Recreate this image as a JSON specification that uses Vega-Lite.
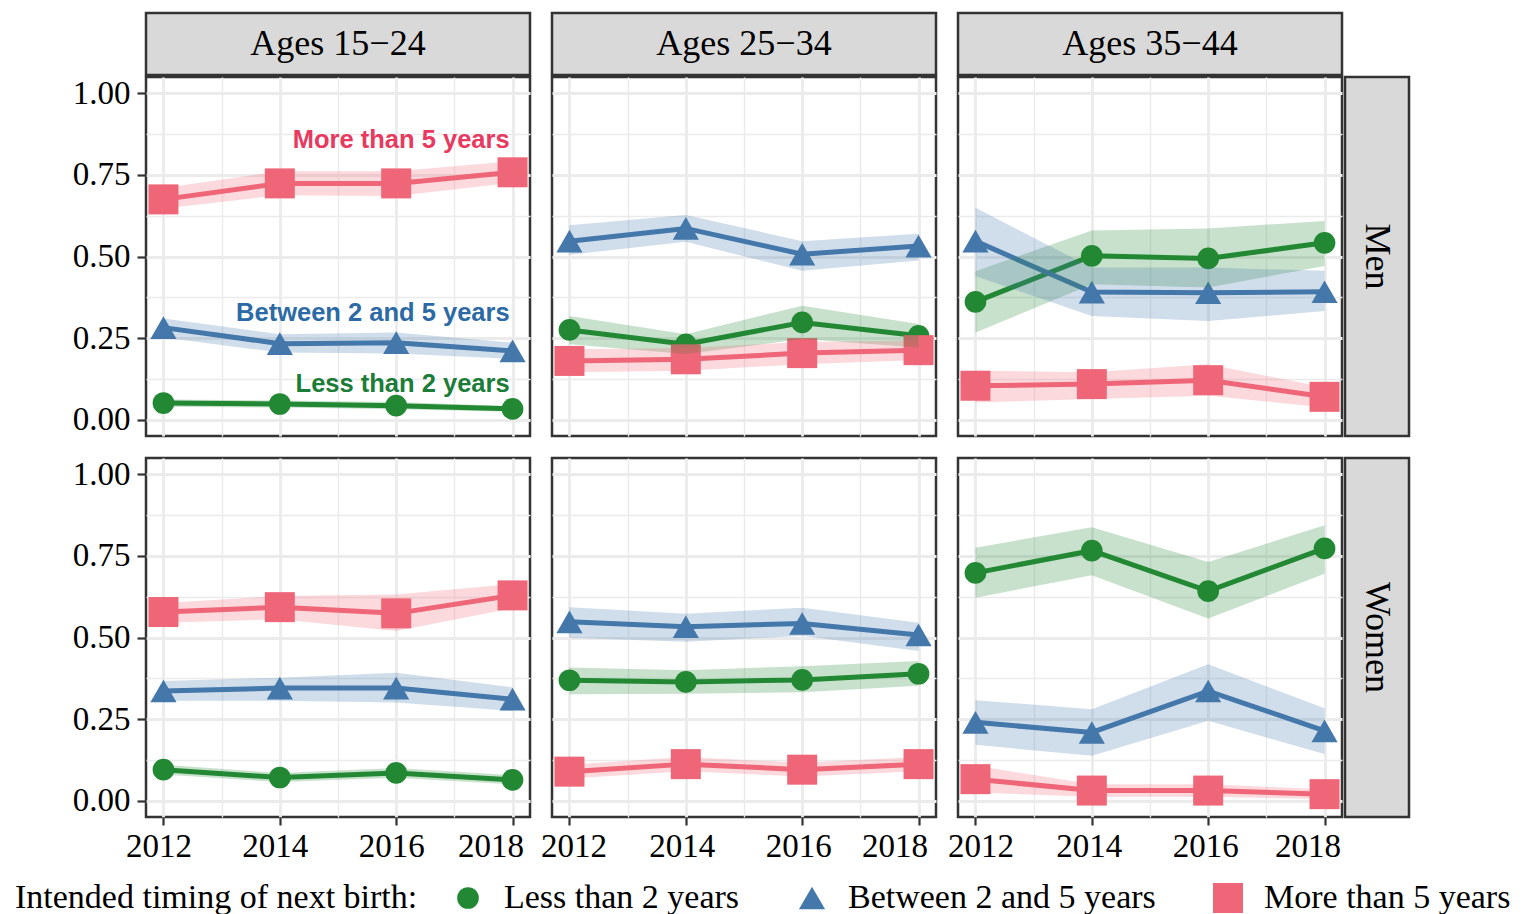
{
  "$schema": "https://vega.github.io/schema/vega-lite/v6.json",
  "background": "white",
  "padding": {"left": 15, "top": 11, "right": 2, "bottom": 2},
  "datasets": {
    "est": [
      {"sex": "Men", "age": "15-24", "timing": "Less than 2 years", "year": 2012, "est": 0.051, "lo": 0.040, "hi": 0.062},
      {"sex": "Men", "age": "15-24", "timing": "Less than 2 years", "year": 2014, "est": 0.048, "lo": 0.037, "hi": 0.059},
      {"sex": "Men", "age": "15-24", "timing": "Less than 2 years", "year": 2016, "est": 0.043, "lo": 0.032, "hi": 0.054},
      {"sex": "Men", "age": "15-24", "timing": "Less than 2 years", "year": 2018, "est": 0.033, "lo": 0.024, "hi": 0.042},
      {"sex": "Men", "age": "15-24", "timing": "Between 2 and 5 years", "year": 2012, "est": 0.282, "lo": 0.252, "hi": 0.310},
      {"sex": "Men", "age": "15-24", "timing": "Between 2 and 5 years", "year": 2014, "est": 0.233, "lo": 0.206, "hi": 0.262},
      {"sex": "Men", "age": "15-24", "timing": "Between 2 and 5 years", "year": 2016, "est": 0.236, "lo": 0.203, "hi": 0.267},
      {"sex": "Men", "age": "15-24", "timing": "Between 2 and 5 years", "year": 2018, "est": 0.211, "lo": 0.186, "hi": 0.236},
      {"sex": "Men", "age": "15-24", "timing": "More than 5 years", "year": 2012, "est": 0.675, "lo": 0.647, "hi": 0.710},
      {"sex": "Men", "age": "15-24", "timing": "More than 5 years", "year": 2014, "est": 0.724, "lo": 0.688, "hi": 0.761},
      {"sex": "Men", "age": "15-24", "timing": "More than 5 years", "year": 2016, "est": 0.724, "lo": 0.685, "hi": 0.761},
      {"sex": "Men", "age": "15-24", "timing": "More than 5 years", "year": 2018, "est": 0.758, "lo": 0.726, "hi": 0.792},

      {"sex": "Men", "age": "25-34", "timing": "Less than 2 years", "year": 2012, "est": 0.275, "lo": 0.231, "hi": 0.318},
      {"sex": "Men", "age": "25-34", "timing": "Less than 2 years", "year": 2014, "est": 0.231, "lo": 0.201, "hi": 0.262},
      {"sex": "Men", "age": "25-34", "timing": "Less than 2 years", "year": 2016, "est": 0.298, "lo": 0.247, "hi": 0.349},
      {"sex": "Men", "age": "25-34", "timing": "Less than 2 years", "year": 2018, "est": 0.257, "lo": 0.221, "hi": 0.293},
      {"sex": "Men", "age": "25-34", "timing": "Between 2 and 5 years", "year": 2012, "est": 0.547, "lo": 0.505, "hi": 0.596},
      {"sex": "Men", "age": "25-34", "timing": "Between 2 and 5 years", "year": 2014, "est": 0.586, "lo": 0.545, "hi": 0.627},
      {"sex": "Men", "age": "25-34", "timing": "Between 2 and 5 years", "year": 2016, "est": 0.507, "lo": 0.456, "hi": 0.547},
      {"sex": "Men", "age": "25-34", "timing": "Between 2 and 5 years", "year": 2018, "est": 0.532, "lo": 0.488, "hi": 0.570},
      {"sex": "Men", "age": "25-34", "timing": "More than 5 years", "year": 2012, "est": 0.180, "lo": 0.145, "hi": 0.216},
      {"sex": "Men", "age": "25-34", "timing": "More than 5 years", "year": 2014, "est": 0.185, "lo": 0.150, "hi": 0.220},
      {"sex": "Men", "age": "25-34", "timing": "More than 5 years", "year": 2016, "est": 0.204, "lo": 0.170, "hi": 0.238},
      {"sex": "Men", "age": "25-34", "timing": "More than 5 years", "year": 2018, "est": 0.213, "lo": 0.183, "hi": 0.243},

      {"sex": "Men", "age": "35-44", "timing": "Less than 2 years", "year": 2012, "est": 0.361, "lo": 0.267, "hi": 0.455},
      {"sex": "Men", "age": "35-44", "timing": "Less than 2 years", "year": 2014, "est": 0.502, "lo": 0.415, "hi": 0.580},
      {"sex": "Men", "age": "35-44", "timing": "Less than 2 years", "year": 2016, "est": 0.494, "lo": 0.405, "hi": 0.586},
      {"sex": "Men", "age": "35-44", "timing": "Less than 2 years", "year": 2018, "est": 0.542, "lo": 0.471, "hi": 0.609},
      {"sex": "Men", "age": "35-44", "timing": "Between 2 and 5 years", "year": 2012, "est": 0.547, "lo": 0.440, "hi": 0.649},
      {"sex": "Men", "age": "35-44", "timing": "Between 2 and 5 years", "year": 2014, "est": 0.391, "lo": 0.318, "hi": 0.466},
      {"sex": "Men", "age": "35-44", "timing": "Between 2 and 5 years", "year": 2016, "est": 0.389, "lo": 0.302, "hi": 0.466},
      {"sex": "Men", "age": "35-44", "timing": "Between 2 and 5 years", "year": 2018, "est": 0.392, "lo": 0.333, "hi": 0.456},
      {"sex": "Men", "age": "35-44", "timing": "More than 5 years", "year": 2012, "est": 0.104, "lo": 0.053, "hi": 0.150},
      {"sex": "Men", "age": "35-44", "timing": "More than 5 years", "year": 2014, "est": 0.109, "lo": 0.063, "hi": 0.145},
      {"sex": "Men", "age": "35-44", "timing": "More than 5 years", "year": 2016, "est": 0.121, "lo": 0.073, "hi": 0.170},
      {"sex": "Men", "age": "35-44", "timing": "More than 5 years", "year": 2018, "est": 0.070, "lo": 0.038, "hi": 0.099},

      {"sex": "Women", "age": "15-24", "timing": "Less than 2 years", "year": 2012, "est": 0.095, "lo": 0.080, "hi": 0.110},
      {"sex": "Women", "age": "15-24", "timing": "Less than 2 years", "year": 2014, "est": 0.071, "lo": 0.057, "hi": 0.085},
      {"sex": "Women", "age": "15-24", "timing": "Less than 2 years", "year": 2016, "est": 0.085, "lo": 0.070, "hi": 0.100},
      {"sex": "Women", "age": "15-24", "timing": "Less than 2 years", "year": 2018, "est": 0.064, "lo": 0.050, "hi": 0.078},
      {"sex": "Women", "age": "15-24", "timing": "Between 2 and 5 years", "year": 2012, "est": 0.336, "lo": 0.306, "hi": 0.367},
      {"sex": "Women", "age": "15-24", "timing": "Between 2 and 5 years", "year": 2014, "est": 0.345, "lo": 0.306, "hi": 0.377},
      {"sex": "Women", "age": "15-24", "timing": "Between 2 and 5 years", "year": 2016, "est": 0.345, "lo": 0.301, "hi": 0.392},
      {"sex": "Women", "age": "15-24", "timing": "Between 2 and 5 years", "year": 2018, "est": 0.311, "lo": 0.275, "hi": 0.347},
      {"sex": "Women", "age": "15-24", "timing": "More than 5 years", "year": 2012, "est": 0.578, "lo": 0.545, "hi": 0.606},
      {"sex": "Women", "age": "15-24", "timing": "More than 5 years", "year": 2014, "est": 0.593, "lo": 0.556, "hi": 0.627},
      {"sex": "Women", "age": "15-24", "timing": "More than 5 years", "year": 2016, "est": 0.574, "lo": 0.520, "hi": 0.632},
      {"sex": "Women", "age": "15-24", "timing": "More than 5 years", "year": 2018, "est": 0.629, "lo": 0.590, "hi": 0.664},

      {"sex": "Women", "age": "25-34", "timing": "Less than 2 years", "year": 2012, "est": 0.369, "lo": 0.326, "hi": 0.408},
      {"sex": "Women", "age": "25-34", "timing": "Less than 2 years", "year": 2014, "est": 0.364, "lo": 0.328, "hi": 0.400},
      {"sex": "Women", "age": "25-34", "timing": "Less than 2 years", "year": 2016, "est": 0.370, "lo": 0.332, "hi": 0.412},
      {"sex": "Women", "age": "25-34", "timing": "Less than 2 years", "year": 2018, "est": 0.389, "lo": 0.352, "hi": 0.428},
      {"sex": "Women", "age": "25-34", "timing": "Between 2 and 5 years", "year": 2012, "est": 0.548, "lo": 0.499, "hi": 0.593},
      {"sex": "Women", "age": "25-34", "timing": "Between 2 and 5 years", "year": 2014, "est": 0.533, "lo": 0.487, "hi": 0.573},
      {"sex": "Women", "age": "25-34", "timing": "Between 2 and 5 years", "year": 2016, "est": 0.543, "lo": 0.505, "hi": 0.591},
      {"sex": "Women", "age": "25-34", "timing": "Between 2 and 5 years", "year": 2018, "est": 0.508, "lo": 0.459, "hi": 0.545},
      {"sex": "Women", "age": "25-34", "timing": "More than 5 years", "year": 2012, "est": 0.089, "lo": 0.068, "hi": 0.110},
      {"sex": "Women", "age": "25-34", "timing": "More than 5 years", "year": 2014, "est": 0.112, "lo": 0.090, "hi": 0.134},
      {"sex": "Women", "age": "25-34", "timing": "More than 5 years", "year": 2016, "est": 0.095, "lo": 0.074, "hi": 0.116},
      {"sex": "Women", "age": "25-34", "timing": "More than 5 years", "year": 2018, "est": 0.112, "lo": 0.090, "hi": 0.134},

      {"sex": "Women", "age": "35-44", "timing": "Less than 2 years", "year": 2012, "est": 0.698, "lo": 0.622, "hi": 0.775},
      {"sex": "Women", "age": "35-44", "timing": "Less than 2 years", "year": 2014, "est": 0.766, "lo": 0.691, "hi": 0.838},
      {"sex": "Women", "age": "35-44", "timing": "Less than 2 years", "year": 2016, "est": 0.642, "lo": 0.558, "hi": 0.731},
      {"sex": "Women", "age": "35-44", "timing": "Less than 2 years", "year": 2018, "est": 0.773, "lo": 0.695, "hi": 0.844},
      {"sex": "Women", "age": "35-44", "timing": "Between 2 and 5 years", "year": 2012, "est": 0.240, "lo": 0.171, "hi": 0.308},
      {"sex": "Women", "age": "35-44", "timing": "Between 2 and 5 years", "year": 2014, "est": 0.209, "lo": 0.138, "hi": 0.280},
      {"sex": "Women", "age": "35-44", "timing": "Between 2 and 5 years", "year": 2016, "est": 0.336, "lo": 0.245, "hi": 0.418},
      {"sex": "Women", "age": "35-44", "timing": "Between 2 and 5 years", "year": 2018, "est": 0.214, "lo": 0.143, "hi": 0.283},
      {"sex": "Women", "age": "35-44", "timing": "More than 5 years", "year": 2012, "est": 0.066, "lo": 0.025, "hi": 0.107},
      {"sex": "Women", "age": "35-44", "timing": "More than 5 years", "year": 2014, "est": 0.031, "lo": 0.012, "hi": 0.050},
      {"sex": "Women", "age": "35-44", "timing": "More than 5 years", "year": 2016, "est": 0.031, "lo": 0.012, "hi": 0.050},
      {"sex": "Women", "age": "35-44", "timing": "More than 5 years", "year": 2018, "est": 0.020, "lo": 0.005, "hi": 0.035}
    ],
    "notes": [
      {"label": "More than 5 years", "year": 2017.95, "value": 0.833},
      {"label": "Between 2 and 5 years", "year": 2017.95, "value": 0.303},
      {"label": "Less than 2 years", "year": 2017.95, "value": 0.085}
    ]
  },
  "config": {
    "font": "Liberation Serif",
    "view": {"stroke": "#333333", "strokeWidth": 2.5},
    "axis": {"domain": false, "labelFont": "Liberation Serif", "labelFontSize": 33, "labelColor": "#000000", "tickColor": "#333333", "tickWidth": 2.2, "gridColor": "#EBEBEB", "titleFont": "Liberation Serif"},
    "legend": {"orient": "none", "legendX": -131, "legendY": 868, "direction": "horizontal", "titleOrient": "left", "titleFont": "Liberation Serif", "titleFontSize": 34, "titleFontWeight": "normal", "titleColor": "#000000", "labelFont": "Liberation Serif", "labelFontSize": 34, "labelColor": "#000000", "labelLimit": 0, "titleLimit": 0, "columnPadding": 55, "labelOffset": 19, "titlePadding": 33, "symbolOpacity": 1, "symbolStrokeWidth": 0}
  },
  "spacing": 18,
  "vconcat": [
    {
      "spacing": -5,
      "vconcat": [
        {
          "spacing": 22,
          "bounds": "flush",
          "hconcat": [
            {
              "width": 384, "height": 62,
              "view": {"fill": "#D9D9D9", "stroke": "#333333", "strokeWidth": 2.5},
              "data": {"values": [{"label": "Ages 15−24"}]},
              "mark": {"type": "text", "font": "Liberation Serif", "fontSize": 36, "color": "#000000", "baseline": "middle"},
              "encoding": {
                "text": {"field": "label"},
                "y": {"datum": 0.5, "type": "quantitative", "scale": {"domain": [0, 1], "nice": false, "zero": false},
                      "axis": {"title": null, "values": [0.5], "format": ".2f", "labelOpacity": 0, "tickOpacity": 0, "tickSize": 9, "labelPadding": 7, "grid": false}}
              }
            },
            {
              "width": 384, "height": 62,
              "view": {"fill": "#D9D9D9", "stroke": "#333333", "strokeWidth": 2.5},
              "data": {"values": [{"label": "Ages 25−34"}]},
              "mark": {"type": "text", "font": "Liberation Serif", "fontSize": 36, "color": "#000000", "baseline": "middle"},
              "encoding": {"text": {"field": "label"}}
            },
            {
              "width": 384, "height": 62,
              "view": {"fill": "#D9D9D9", "stroke": "#333333", "strokeWidth": 2.5},
              "data": {"values": [{"label": "Ages 35−44"}]},
              "mark": {"type": "text", "font": "Liberation Serif", "fontSize": 36, "color": "#000000", "baseline": "middle"},
              "encoding": {"text": {"field": "label"}}
            }
          ]
        },
        {
          "spacing": -1,
          "hconcat": [
            {
              "spacing": 22,
              "bounds": "flush",
              "hconcat": [
                {
                  "width": 384, "height": 359,
                  "data": {"name": "est"},
                  "transform": [{"filter": "datum.sex === 'Men' && datum.age === '15-24'"}],
                  "encoding": {
                    "x": {"field": "year", "type": "quantitative", "scale": {"domain": [2011.7, 2018.3], "nice": false, "zero": false},
                          "axis": {"title": null, "values": [2012, 2013, 2014, 2015, 2016, 2017, 2018], "labels": false, "ticks": false, "grid": true, "gridWidth": {"condition": {"test": "datum.value % 2 === 0", "value": 2.8}, "value": 1.4}}},
                    "y": {"field": "est", "type": "quantitative", "scale": {"domain": [-0.05, 1.05], "nice": false, "zero": false},
                          "axis": {"title": null, "values": [0, 0.125, 0.25, 0.375, 0.5, 0.625, 0.75, 0.875, 1], "format": ".2f", "labelExpr": "abs(datum.value*4 - round(datum.value*4)) < 0.001 ? datum.label : ''", "labelOverlap": false, "tickSize": 9, "tickOpacity": {"condition": {"test": "abs(datum.value*4 - round(datum.value*4)) < 0.001", "value": 1}, "value": 0}, "labelPadding": 7, "grid": true, "gridWidth": {"condition": {"test": "abs(datum.value*4 - round(datum.value*4)) < 0.001", "value": 2.8}, "value": 1.4}}},
                    "color": {"field": "timing", "type": "nominal", "title": "Intended timing of next birth:", "scale": {"domain": ["Less than 2 years", "Between 2 and 5 years", "More than 5 years"], "range": ["#228833", "#4477AA", "#EE6677"]}}
                  },
                  "layer": [
                    {"mark": {"type": "line", "strokeWidth": 5}},
                    {"mark": {"type": "point", "filled": true, "opacity": 1},
                     "encoding": {
                       "shape": {"field": "timing", "type": "nominal", "title": "Intended timing of next birth:", "scale": {"domain": ["Less than 2 years", "Between 2 and 5 years", "More than 5 years"], "range": ["circle", "triangle-up", "square"]}},
                       "size": {"field": "timing", "type": "nominal", "title": "Intended timing of next birth:", "scale": {"domain": ["Less than 2 years", "Between 2 and 5 years", "More than 5 years"], "range": [470, 900, 545]}}
                     }},
                    {"mark": {"type": "area", "opacity": 0.25},
                     "encoding": {"y": {"field": "lo", "type": "quantitative", "title": null}, "y2": {"field": "hi"}}},
                    {"data": {"name": "notes"},
                     "mark": {"type": "text", "font": "Liberation Sans", "fontWeight": "bold", "fontSize": 25.5, "align": "right", "baseline": "alphabetic"},
                     "encoding": {
                       "y": {"field": "value", "type": "quantitative", "title": null},
                       "text": {"field": "label"},
                       "color": {"condition": [{"test": "datum.label === 'More than 5 years'", "value": "#E8395F"}, {"test": "datum.label === 'Between 2 and 5 years'", "value": "#2C6AA5"}], "value": "#1B7D38"}
                     }}
                  ]
                },
                {
                  "width": 384, "height": 359,
                  "data": {"name": "est"},
                  "transform": [{"filter": "datum.sex === 'Men' && datum.age === '25-34'"}],
                  "encoding": {
                    "x": {"field": "year", "type": "quantitative", "scale": {"domain": [2011.7, 2018.3], "nice": false, "zero": false},
                          "axis": {"title": null, "values": [2012, 2013, 2014, 2015, 2016, 2017, 2018], "labels": false, "ticks": false, "grid": true, "gridWidth": {"condition": {"test": "datum.value % 2 === 0", "value": 2.8}, "value": 1.4}}},
                    "y": {"field": "est", "type": "quantitative", "scale": {"domain": [-0.05, 1.05], "nice": false, "zero": false},
                          "axis": {"title": null, "values": [0, 0.125, 0.25, 0.375, 0.5, 0.625, 0.75, 0.875, 1], "labels": false, "ticks": false, "grid": true, "gridWidth": {"condition": {"test": "abs(datum.value*4 - round(datum.value*4)) < 0.001", "value": 2.8}, "value": 1.4}}},
                    "color": {"field": "timing", "type": "nominal", "title": "Intended timing of next birth:", "scale": {"domain": ["Less than 2 years", "Between 2 and 5 years", "More than 5 years"], "range": ["#228833", "#4477AA", "#EE6677"]}}
                  },
                  "layer": [
                    {"mark": {"type": "line", "strokeWidth": 5}},
                    {"mark": {"type": "point", "filled": true, "opacity": 1},
                     "encoding": {
                       "shape": {"field": "timing", "type": "nominal", "title": "Intended timing of next birth:", "scale": {"domain": ["Less than 2 years", "Between 2 and 5 years", "More than 5 years"], "range": ["circle", "triangle-up", "square"]}},
                       "size": {"field": "timing", "type": "nominal", "title": "Intended timing of next birth:", "scale": {"domain": ["Less than 2 years", "Between 2 and 5 years", "More than 5 years"], "range": [470, 900, 545]}}
                     }},
                    {"mark": {"type": "area", "opacity": 0.25},
                     "encoding": {"y": {"field": "lo", "type": "quantitative", "title": null}, "y2": {"field": "hi"}}}
                  ]
                },
                {
                  "width": 384, "height": 359,
                  "data": {"name": "est"},
                  "transform": [{"filter": "datum.sex === 'Men' && datum.age === '35-44'"}],
                  "encoding": {
                    "x": {"field": "year", "type": "quantitative", "scale": {"domain": [2011.7, 2018.3], "nice": false, "zero": false},
                          "axis": {"title": null, "values": [2012, 2013, 2014, 2015, 2016, 2017, 2018], "labels": false, "ticks": false, "grid": true, "gridWidth": {"condition": {"test": "datum.value % 2 === 0", "value": 2.8}, "value": 1.4}}},
                    "y": {"field": "est", "type": "quantitative", "scale": {"domain": [-0.05, 1.05], "nice": false, "zero": false},
                          "axis": {"title": null, "values": [0, 0.125, 0.25, 0.375, 0.5, 0.625, 0.75, 0.875, 1], "labels": false, "ticks": false, "grid": true, "gridWidth": {"condition": {"test": "abs(datum.value*4 - round(datum.value*4)) < 0.001", "value": 2.8}, "value": 1.4}}},
                    "color": {"field": "timing", "type": "nominal", "title": "Intended timing of next birth:", "scale": {"domain": ["Less than 2 years", "Between 2 and 5 years", "More than 5 years"], "range": ["#228833", "#4477AA", "#EE6677"]}}
                  },
                  "layer": [
                    {"mark": {"type": "line", "strokeWidth": 5}},
                    {"mark": {"type": "point", "filled": true, "opacity": 1},
                     "encoding": {
                       "shape": {"field": "timing", "type": "nominal", "title": "Intended timing of next birth:", "scale": {"domain": ["Less than 2 years", "Between 2 and 5 years", "More than 5 years"], "range": ["circle", "triangle-up", "square"]}},
                       "size": {"field": "timing", "type": "nominal", "title": "Intended timing of next birth:", "scale": {"domain": ["Less than 2 years", "Between 2 and 5 years", "More than 5 years"], "range": [470, 900, 545]}}
                     }},
                    {"mark": {"type": "area", "opacity": 0.25},
                     "encoding": {"y": {"field": "lo", "type": "quantitative", "title": null}, "y2": {"field": "hi"}}}
                  ]
                }
              ]
            },
            {
              "width": 64, "height": 359,
              "view": {"fill": "#D9D9D9", "stroke": "#333333", "strokeWidth": 2.5},
              "data": {"values": [{"label": "Men"}]},
              "mark": {"type": "text", "font": "Liberation Serif", "fontSize": 36, "color": "#000000", "baseline": "middle", "angle": 90},
              "encoding": {"text": {"field": "label"}}
            }
          ]
        }
      ]
    },
    {
      "spacing": -1,
      "hconcat": [
        {
          "spacing": 22,
          "bounds": "flush",
          "hconcat": [
            {
              "width": 384, "height": 359,
              "data": {"name": "est"},
              "transform": [{"filter": "datum.sex === 'Women' && datum.age === '15-24'"}],
              "encoding": {
                "x": {"field": "year", "type": "quantitative", "scale": {"domain": [2011.7, 2018.3], "nice": false, "zero": false},
                      "axis": {"title": null, "values": [2012, 2013, 2014, 2015, 2016, 2017, 2018], "format": "d", "labelExpr": "datum.value % 2 === 0 ? datum.label : ''", "labelOverlap": false, "tickSize": 8, "tickOpacity": {"condition": {"test": "datum.value % 2 === 0", "value": 1}, "value": 0}, "labelPadding": 5, "labelOffset": {"condition": [{"test": "datum.value === 2018", "value": -22}], "value": -5}, "grid": true, "gridWidth": {"condition": {"test": "datum.value % 2 === 0", "value": 2.8}, "value": 1.4}}},
                "y": {"field": "est", "type": "quantitative", "scale": {"domain": [-0.05, 1.05], "nice": false, "zero": false},
                      "axis": {"title": null, "values": [0, 0.125, 0.25, 0.375, 0.5, 0.625, 0.75, 0.875, 1], "format": ".2f", "labelExpr": "abs(datum.value*4 - round(datum.value*4)) < 0.001 ? datum.label : ''", "labelOverlap": false, "tickSize": 9, "tickOpacity": {"condition": {"test": "abs(datum.value*4 - round(datum.value*4)) < 0.001", "value": 1}, "value": 0}, "labelPadding": 7, "grid": true, "gridWidth": {"condition": {"test": "abs(datum.value*4 - round(datum.value*4)) < 0.001", "value": 2.8}, "value": 1.4}}},
                "color": {"field": "timing", "type": "nominal", "title": "Intended timing of next birth:", "scale": {"domain": ["Less than 2 years", "Between 2 and 5 years", "More than 5 years"], "range": ["#228833", "#4477AA", "#EE6677"]}}
              },
              "layer": [
                {"mark": {"type": "line", "strokeWidth": 5}},
                {"mark": {"type": "point", "filled": true, "opacity": 1},
                 "encoding": {
                   "shape": {"field": "timing", "type": "nominal", "title": "Intended timing of next birth:", "scale": {"domain": ["Less than 2 years", "Between 2 and 5 years", "More than 5 years"], "range": ["circle", "triangle-up", "square"]}},
                   "size": {"field": "timing", "type": "nominal", "title": "Intended timing of next birth:", "scale": {"domain": ["Less than 2 years", "Between 2 and 5 years", "More than 5 years"], "range": [470, 900, 545]}}
                 }},
                {"mark": {"type": "area", "opacity": 0.25},
                 "encoding": {"y": {"field": "lo", "type": "quantitative", "title": null}, "y2": {"field": "hi"}}}
              ]
            },
            {
              "width": 384, "height": 359,
              "data": {"name": "est"},
              "transform": [{"filter": "datum.sex === 'Women' && datum.age === '25-34'"}],
              "encoding": {
                "x": {"field": "year", "type": "quantitative", "scale": {"domain": [2011.7, 2018.3], "nice": false, "zero": false},
                      "axis": {"title": null, "values": [2012, 2013, 2014, 2015, 2016, 2017, 2018], "format": "d", "labelExpr": "datum.value % 2 === 0 ? datum.label : ''", "labelOverlap": false, "tickSize": 8, "tickOpacity": {"condition": {"test": "datum.value % 2 === 0", "value": 1}, "value": 0}, "labelPadding": 5, "labelOffset": {"condition": [{"test": "datum.value === 2018", "value": -24}, {"test": "datum.value === 2012", "value": 4}], "value": -4}, "grid": true, "gridWidth": {"condition": {"test": "datum.value % 2 === 0", "value": 2.8}, "value": 1.4}}},
                "y": {"field": "est", "type": "quantitative", "scale": {"domain": [-0.05, 1.05], "nice": false, "zero": false},
                      "axis": {"title": null, "values": [0, 0.125, 0.25, 0.375, 0.5, 0.625, 0.75, 0.875, 1], "labels": false, "ticks": false, "grid": true, "gridWidth": {"condition": {"test": "abs(datum.value*4 - round(datum.value*4)) < 0.001", "value": 2.8}, "value": 1.4}}},
                "color": {"field": "timing", "type": "nominal", "title": "Intended timing of next birth:", "scale": {"domain": ["Less than 2 years", "Between 2 and 5 years", "More than 5 years"], "range": ["#228833", "#4477AA", "#EE6677"]}}
              },
              "layer": [
                {"mark": {"type": "line", "strokeWidth": 5}},
                {"mark": {"type": "point", "filled": true, "opacity": 1},
                 "encoding": {
                   "shape": {"field": "timing", "type": "nominal", "title": "Intended timing of next birth:", "scale": {"domain": ["Less than 2 years", "Between 2 and 5 years", "More than 5 years"], "range": ["circle", "triangle-up", "square"]}},
                   "size": {"field": "timing", "type": "nominal", "title": "Intended timing of next birth:", "scale": {"domain": ["Less than 2 years", "Between 2 and 5 years", "More than 5 years"], "range": [470, 900, 545]}}
                 }},
                {"mark": {"type": "area", "opacity": 0.25},
                 "encoding": {"y": {"field": "lo", "type": "quantitative", "title": null}, "y2": {"field": "hi"}}}
              ]
            },
            {
              "width": 384, "height": 359,
              "data": {"name": "est"},
              "transform": [{"filter": "datum.sex === 'Women' && datum.age === '35-44'"}],
              "encoding": {
                "x": {"field": "year", "type": "quantitative", "scale": {"domain": [2011.7, 2018.3], "nice": false, "zero": false},
                      "axis": {"title": null, "values": [2012, 2013, 2014, 2015, 2016, 2017, 2018], "format": "d", "labelExpr": "datum.value % 2 === 0 ? datum.label : ''", "labelOverlap": false, "tickSize": 8, "tickOpacity": {"condition": {"test": "datum.value % 2 === 0", "value": 1}, "value": 0}, "labelPadding": 5, "labelOffset": {"condition": [{"test": "datum.value === 2018", "value": -17}, {"test": "datum.value === 2012", "value": 5}], "value": -3}, "grid": true, "gridWidth": {"condition": {"test": "datum.value % 2 === 0", "value": 2.8}, "value": 1.4}}},
                "y": {"field": "est", "type": "quantitative", "scale": {"domain": [-0.05, 1.05], "nice": false, "zero": false},
                      "axis": {"title": null, "values": [0, 0.125, 0.25, 0.375, 0.5, 0.625, 0.75, 0.875, 1], "labels": false, "ticks": false, "grid": true, "gridWidth": {"condition": {"test": "abs(datum.value*4 - round(datum.value*4)) < 0.001", "value": 2.8}, "value": 1.4}}},
                "color": {"field": "timing", "type": "nominal", "title": "Intended timing of next birth:", "scale": {"domain": ["Less than 2 years", "Between 2 and 5 years", "More than 5 years"], "range": ["#228833", "#4477AA", "#EE6677"]}}
              },
              "layer": [
                {"mark": {"type": "line", "strokeWidth": 5}},
                {"mark": {"type": "point", "filled": true, "opacity": 1},
                 "encoding": {
                   "shape": {"field": "timing", "type": "nominal", "title": "Intended timing of next birth:", "scale": {"domain": ["Less than 2 years", "Between 2 and 5 years", "More than 5 years"], "range": ["circle", "triangle-up", "square"]}},
                   "size": {"field": "timing", "type": "nominal", "title": "Intended timing of next birth:", "scale": {"domain": ["Less than 2 years", "Between 2 and 5 years", "More than 5 years"], "range": [470, 900, 545]}}
                 }},
                {"mark": {"type": "area", "opacity": 0.25},
                 "encoding": {"y": {"field": "lo", "type": "quantitative", "title": null}, "y2": {"field": "hi"}}}
              ]
            }
          ]
        },
        {
          "width": 64, "height": 359,
          "view": {"fill": "#D9D9D9", "stroke": "#333333", "strokeWidth": 2.5},
          "data": {"values": [{"label": "Women"}]},
          "mark": {"type": "text", "font": "Liberation Serif", "fontSize": 36, "color": "#000000", "baseline": "middle", "angle": 90},
          "encoding": {"text": {"field": "label"}}
        }
      ]
    }
  ]
}
